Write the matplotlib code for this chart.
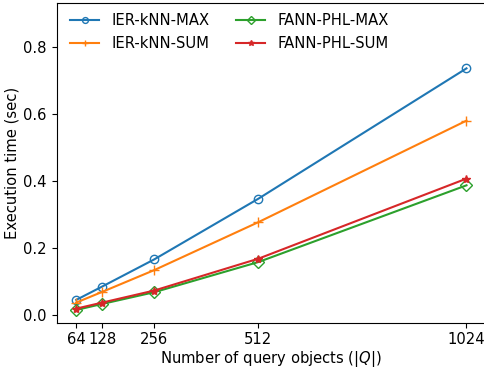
import matplotlib
matplotlib.use("Agg")
import matplotlib.pyplot as plt

query_sizes = [64, 128, 256, 512, 1024]
ier_knn_max = [0.044, 0.084, 0.165, 0.346, 0.735]
ier_knn_sum = [0.036, 0.068, 0.133, 0.276, 0.579]
fann_phl_max = [0.014, 0.032, 0.067, 0.157, 0.386]
fann_phl_sum = [0.018, 0.036, 0.072, 0.167, 0.406]
series_labels = ["IER-kNN-MAX", "IER-kNN-SUM", "FANN-PHL-MAX", "FANN-PHL-SUM"]

plt.rcParams["font.size"] = 10.6

fig = plt.figure(figsize=(4.84, 3.71), dpi=100)
ax = fig.add_axes([56.7 / 484, (371 - 322.7) / 371, (486 - 56.7) / 484, 320 / 371])

ax.plot(query_sizes, ier_knn_max, color="#1f77b4", marker="o", markerfacecolor="none",
        markersize=6, label=series_labels[0])
ax.plot(query_sizes, ier_knn_sum, color="#ff7f0e", marker="+", markersize=7,
        label=series_labels[1])
ax.plot(query_sizes, fann_phl_max, color="#2ca02c", marker="D", markerfacecolor="none",
        markersize=6, label=series_labels[2])
ax.plot(query_sizes, fann_phl_sum, color="#d62728", marker="*", markersize=6,
        label=series_labels[3])

ax.set_xticks(query_sizes)
ax.set_xticklabels([str(v) for v in query_sizes])
ax.set_xlim(16, 1072)
ax.set_ylim(-0.024, 0.931)
ax.set_yticks([0.0, 0.2, 0.4, 0.6, 0.8])
ax.set_xlabel("Number of query objects ($|Q|$)", labelpad=1)
ax.set_ylabel("Execution time (sec)", labelpad=3)
ax.legend(loc="upper left", ncol=2, frameon=False, markerscale=0.7,
          columnspacing=1.8, bbox_to_anchor=(0.0, 1.008))

fig.savefig("out.png", dpi=100)
